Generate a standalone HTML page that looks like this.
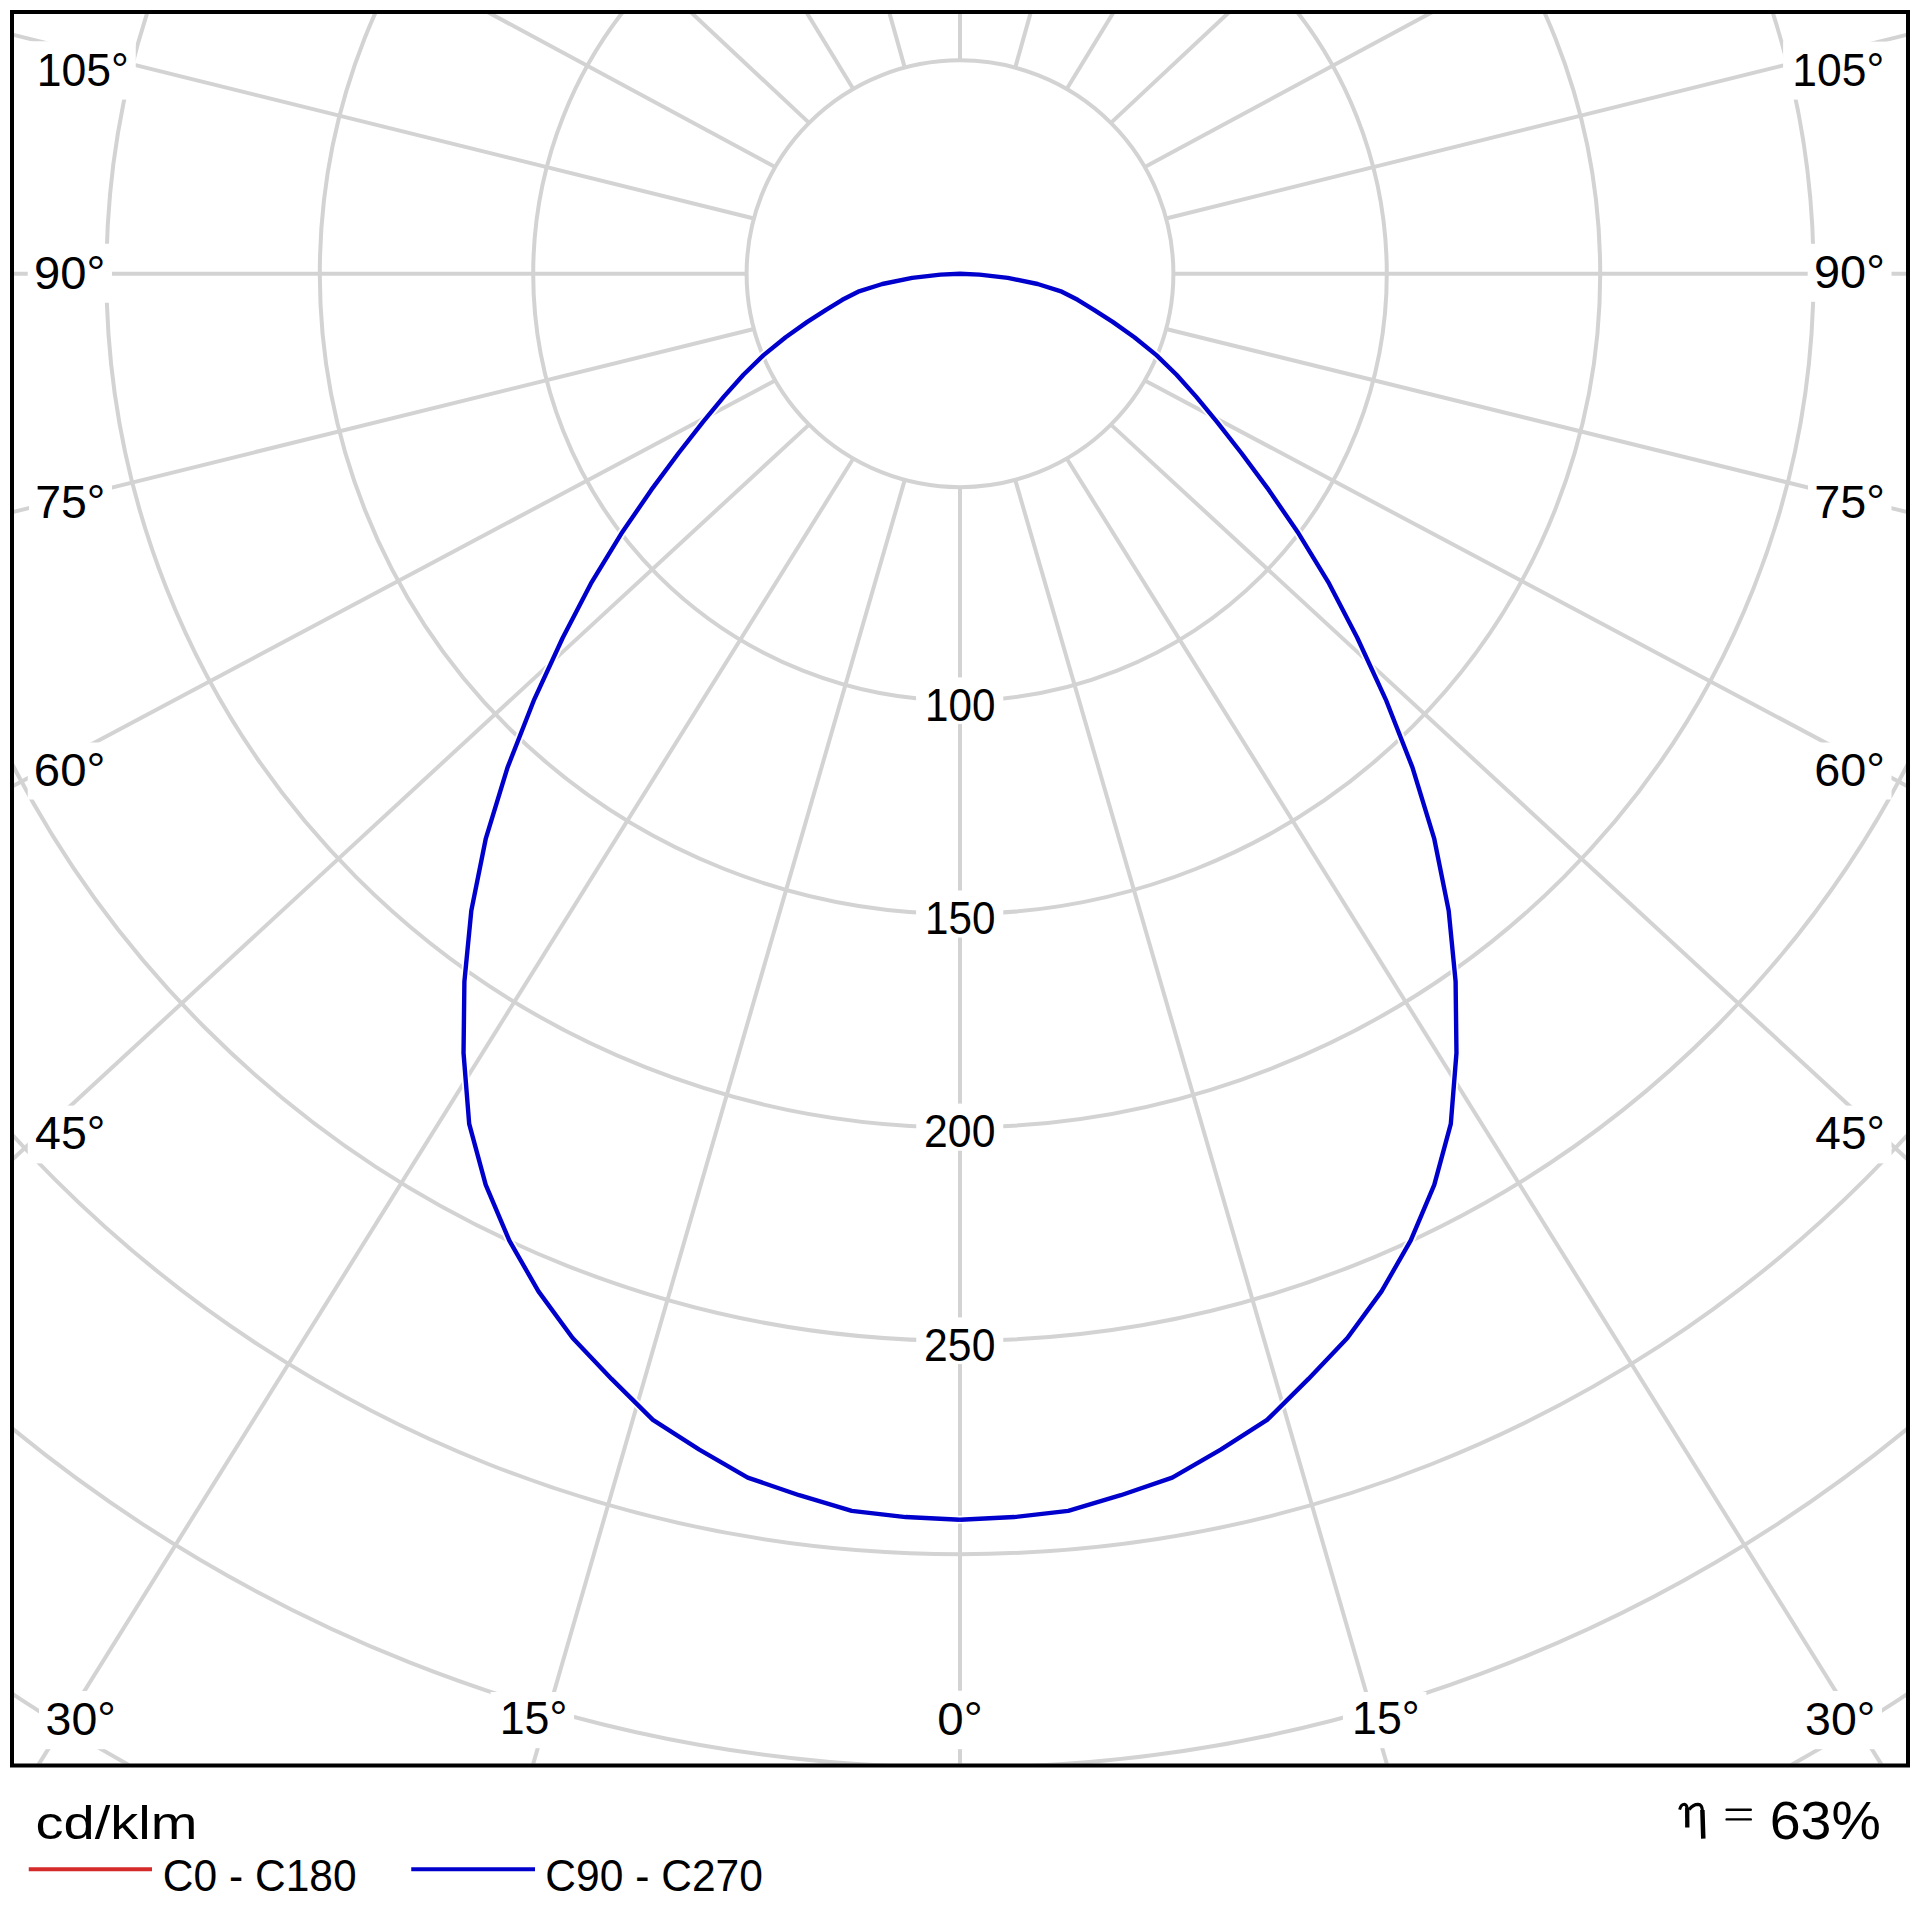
<!DOCTYPE html>
<html><head><meta charset="utf-8"><style>
html,body{margin:0;padding:0;background:#fff;width:1920px;height:1920px;overflow:hidden}
svg{display:block}
text{font-family:"Liberation Sans",sans-serif;fill:#000}
</style></head><body>
<svg width="1920" height="1920" viewBox="0 0 1920 1920">
<rect width="1920" height="1920" fill="#fff"/>
<defs><clipPath id="cp"><rect x="14.0" y="14.0" width="1892.0" height="1749.5"/></clipPath></defs>
<g clip-path="url(#cp)" fill="none" stroke="#d3d3d3" stroke-width="4.0">
<circle cx="960.0" cy="273.75" r="213.40"/>
<circle cx="960.0" cy="273.75" r="426.80"/>
<circle cx="960.0" cy="273.75" r="640.20"/>
<circle cx="960.0" cy="273.75" r="853.60"/>
<circle cx="960.0" cy="273.75" r="1067.00"/>
<circle cx="960.0" cy="273.75" r="1280.40"/>
<circle cx="960.0" cy="273.75" r="1493.80"/>
<circle cx="960.0" cy="273.75" r="1707.20"/>
<circle cx="960.0" cy="273.75" r="1920.60"/>
<line x1="904.77" y1="479.88" x2="514.73" y2="1827.68"/>
<line x1="1015.23" y1="479.88" x2="1405.27" y2="1827.68"/>
<line x1="853.30" y1="458.56" x2="-1.50" y2="1828.75"/>
<line x1="1066.70" y1="458.56" x2="1921.51" y2="1828.75"/>
<line x1="809.10" y1="424.65" x2="-25.76" y2="1194.67"/>
<line x1="1110.90" y1="424.65" x2="1945.76" y2="1194.67"/>
<line x1="775.19" y1="380.45" x2="-24.06" y2="805.75"/>
<line x1="1144.81" y1="380.45" x2="1944.06" y2="805.75"/>
<line x1="753.87" y1="328.98" x2="-22.99" y2="520.84"/>
<line x1="1166.13" y1="328.98" x2="1942.99" y2="520.84"/>
<line x1="753.87" y1="218.52" x2="-22.99" y2="25.82"/>
<line x1="1166.13" y1="218.52" x2="1942.99" y2="25.82"/>
<line x1="775.19" y1="167.05" x2="477.05" y2="6.35"/>
<line x1="1144.81" y1="167.05" x2="1442.95" y2="6.35"/>
<line x1="809.10" y1="122.85" x2="686.98" y2="8.56"/>
<line x1="1110.90" y1="122.85" x2="1233.02" y2="8.56"/>
<line x1="853.30" y1="88.94" x2="805.21" y2="10.25"/>
<line x1="1066.70" y1="88.94" x2="1114.79" y2="10.25"/>
<line x1="904.77" y1="67.62" x2="888.95" y2="11.32"/>
<line x1="1015.23" y1="67.62" x2="1031.05" y2="11.32"/>
<line x1="960.00" y1="487.15" x2="960.00" y2="1768.50"/>
<line x1="960.00" y1="60.35" x2="960.00" y2="9.00"/>
<line x1="746.60" y1="273.75" x2="9.00" y2="273.75"/>
<line x1="1173.40" y1="273.75" x2="1911.00" y2="273.75"/>
</g>
<path d="M960.00,1519.75 L905.72,1517.07 L851.76,1510.92 L799.19,1495.21 L747.73,1477.58 L699.30,1449.70 L652.89,1419.92 L611.54,1378.92 L572.63,1338.05 L538.47,1291.40 L509.24,1240.42 L485.74,1184.80 L469.20,1123.84 L463.53,1053.05 L464.40,981.54 L471.32,910.61 L485.71,838.98 L507.49,767.58 L534.19,699.56 L562.74,637.77 L590.96,583.41 L621.35,533.61 L651.27,489.92 L678.65,452.99 L702.84,422.22 L723.89,396.66 L743.45,374.73 L763.62,355.09 L785.65,337.21 L807.31,321.89 L826.44,309.54 L842.36,299.83 L858.18,291.70 L882.33,283.98 L912.18,277.93 L940.51,274.60 L960.00,273.75 L979.49,274.60 L1007.82,277.93 L1037.67,283.98 L1061.82,291.70 L1077.64,299.83 L1093.56,309.54 L1112.69,321.89 L1134.35,337.21 L1156.38,355.09 L1176.55,374.73 L1196.11,396.66 L1217.16,422.22 L1241.35,452.99 L1268.73,489.92 L1298.65,533.61 L1329.04,583.41 L1357.26,637.77 L1385.81,699.56 L1412.51,767.58 L1434.29,838.98 L1448.68,910.61 L1455.60,981.54 L1456.47,1053.05 L1450.80,1123.84 L1434.26,1184.80 L1410.76,1240.42 L1381.53,1291.40 L1347.37,1338.05 L1308.46,1378.92 L1267.11,1419.92 L1220.70,1449.70 L1172.27,1477.58 L1120.81,1495.21 L1068.24,1510.92 L1014.28,1517.07 L960.00,1519.75" fill="none" stroke="#fff" stroke-width="8" stroke-linejoin="round"/><path d="M960.00,1519.75 L905.72,1517.07 L851.76,1510.92 L799.19,1495.21 L747.73,1477.58 L699.30,1449.70 L652.89,1419.92 L611.54,1378.92 L572.63,1338.05 L538.47,1291.40 L509.24,1240.42 L485.74,1184.80 L469.20,1123.84 L463.53,1053.05 L464.40,981.54 L471.32,910.61 L485.71,838.98 L507.49,767.58 L534.19,699.56 L562.74,637.77 L590.96,583.41 L621.35,533.61 L651.27,489.92 L678.65,452.99 L702.84,422.22 L723.89,396.66 L743.45,374.73 L763.62,355.09 L785.65,337.21 L807.31,321.89 L826.44,309.54 L842.36,299.83 L858.18,291.70 L882.33,283.98 L912.18,277.93 L940.51,274.60 L960.00,273.75 L979.49,274.60 L1007.82,277.93 L1037.67,283.98 L1061.82,291.70 L1077.64,299.83 L1093.56,309.54 L1112.69,321.89 L1134.35,337.21 L1156.38,355.09 L1176.55,374.73 L1196.11,396.66 L1217.16,422.22 L1241.35,452.99 L1268.73,489.92 L1298.65,533.61 L1329.04,583.41 L1357.26,637.77 L1385.81,699.56 L1412.51,767.58 L1434.29,838.98 L1448.68,910.61 L1455.60,981.54 L1456.47,1053.05 L1450.80,1123.84 L1434.26,1184.80 L1410.76,1240.42 L1381.53,1291.40 L1347.37,1338.05 L1308.46,1378.92 L1267.11,1419.92 L1220.70,1449.70 L1172.27,1477.58 L1120.81,1495.21 L1068.24,1510.92 L1014.28,1517.07 L960.00,1519.75" fill="none" stroke="#0000cc" stroke-width="4.4" stroke-linejoin="round"/>
<rect x="27.5" y="41.25" width="108.25" height="58.349999999999994" fill="#fff"/>
<rect x="27.75" y="243.75" width="84.25" height="59.0" fill="#fff"/>
<rect x="29.0" y="475.0" width="83.0" height="57.299999999999955" fill="#fff"/>
<rect x="27.75" y="742.5" width="84.25" height="57.0" fill="#fff"/>
<rect x="27.75" y="1105.6" width="84.25" height="57.80000000000018" fill="#fff"/>
<rect x="1783.1" y="41.6" width="108.0" height="57.99999999999999" fill="#fff"/>
<rect x="1807.7" y="243.8" width="83.79999999999995" height="58.0" fill="#fff"/>
<rect x="1808.0" y="475.6" width="83.5" height="56.19999999999993" fill="#fff"/>
<rect x="1808.0" y="742.5" width="83.5" height="57.0" fill="#fff"/>
<rect x="1808.0" y="1105.6" width="83.5" height="57.80000000000018" fill="#fff"/>
<rect x="39.0" y="1691" width="83.5" height="58.200000000000045" fill="#fff"/>
<rect x="490.6" y="1692" width="83.5" height="56.200000000000045" fill="#fff"/>
<rect x="930.7" y="1690.7" width="58.59999999999991" height="58.5" fill="#fff"/>
<rect x="1342.9" y="1692" width="83.5" height="56.200000000000045" fill="#fff"/>
<rect x="1798.5" y="1691" width="83.5" height="58.200000000000045" fill="#fff"/>
<rect x="916.1" y="677.4" width="87.14999999999998" height="46.700000000000045" fill="#fff"/>
<rect x="916.1" y="890.5" width="87.14999999999998" height="47.10000000000002" fill="#fff"/>
<rect x="916.25" y="1103.6" width="87.0" height="47.100000000000136" fill="#fff"/>
<rect x="916.25" y="1317.4" width="87.0" height="46.69999999999982" fill="#fff"/>
<text x="36.66" y="85.6" text-anchor="start" font-size="45.5" textLength="92.19" lengthAdjust="spacingAndGlyphs">105°</text>
<text x="34.13" y="288.75" text-anchor="start" font-size="45.5" textLength="71.31" lengthAdjust="spacingAndGlyphs">90°</text>
<text x="35.18" y="518.3" text-anchor="start" font-size="45.5" textLength="70.21" lengthAdjust="spacingAndGlyphs">75°</text>
<text x="33.88" y="785.5" text-anchor="start" font-size="45.5" textLength="71.56" lengthAdjust="spacingAndGlyphs">60°</text>
<text x="35.09" y="1149.4" text-anchor="start" font-size="45.5" textLength="70.31" lengthAdjust="spacingAndGlyphs">45°</text>
<text x="1792.27" y="85.6" text-anchor="start" font-size="45.5" textLength="91.93" lengthAdjust="spacingAndGlyphs">105°</text>
<text x="1814.09" y="287.8" text-anchor="start" font-size="45.5" textLength="70.82" lengthAdjust="spacingAndGlyphs">90°</text>
<text x="1814.16" y="517.8" text-anchor="start" font-size="45.5" textLength="70.75" lengthAdjust="spacingAndGlyphs">75°</text>
<text x="1814.16" y="785.5" text-anchor="start" font-size="45.5" textLength="70.75" lengthAdjust="spacingAndGlyphs">60°</text>
<text x="1815.35" y="1149.4" text-anchor="start" font-size="45.5" textLength="69.51" lengthAdjust="spacingAndGlyphs">45°</text>
<text x="45.64" y="1735.2" text-anchor="start" font-size="45.5" textLength="70.25" lengthAdjust="spacingAndGlyphs">30°</text>
<text x="499.75" y="1734.2" text-anchor="start" font-size="45.5" textLength="67.64" lengthAdjust="spacingAndGlyphs">15°</text>
<text x="937.3" y="1735.2" text-anchor="start" font-size="45.5" textLength="45.4" lengthAdjust="spacingAndGlyphs">0°</text>
<text x="1352.05" y="1734.2" text-anchor="start" font-size="45.5" textLength="67.64" lengthAdjust="spacingAndGlyphs">15°</text>
<text x="1805.14" y="1735.2" text-anchor="start" font-size="45.5" textLength="70.25" lengthAdjust="spacingAndGlyphs">30°</text>
<text x="924.93" y="720.6" text-anchor="start" font-size="45.5" textLength="70.44" lengthAdjust="spacingAndGlyphs">100</text>
<text x="924.93" y="934.1" text-anchor="start" font-size="45.5" textLength="70.44" lengthAdjust="spacingAndGlyphs">150</text>
<text x="924.11" y="1147.2" text-anchor="start" font-size="45.5" textLength="71.28" lengthAdjust="spacingAndGlyphs">200</text>
<text x="924.11" y="1360.6" text-anchor="start" font-size="45.5" textLength="71.28" lengthAdjust="spacingAndGlyphs">250</text>
<rect x="12.0" y="12.0" width="1896.0" height="1753.5" fill="none" stroke="#000" stroke-width="4"/>
<line x1="28.75" y1="1869.25" x2="152" y2="1869.25" stroke="#d42a2a" stroke-width="4"/>
<line x1="411.25" y1="1869.25" x2="535" y2="1869.25" stroke="#0000cc" stroke-width="4"/>
<text x="35.48" y="1838.75" text-anchor="start" font-size="46.55" textLength="161.87" lengthAdjust="spacingAndGlyphs">cd/klm</text>
<text x="162.87" y="1891.25" text-anchor="start" font-size="44.64" textLength="193.73" lengthAdjust="spacingAndGlyphs">C0 - C180</text>
<text x="545.37" y="1891.25" text-anchor="start" font-size="44.64" textLength="217.53" lengthAdjust="spacingAndGlyphs">C90 - C270</text>
<text x="1769.73" y="1838.75" text-anchor="start" font-size="53.57" textLength="111.05" lengthAdjust="spacingAndGlyphs">63%</text>
<path d="M1679.6,1809.6 Q1681.2,1804.3 1684.3,1804.3 Q1686.6,1804.6 1687.1,1808" fill="none" stroke="#000" stroke-width="3.0" stroke-linecap="butt"/>
<path d="M1687.2,1807.5 L1687.3,1827.6" fill="none" stroke="#000" stroke-width="4.3" stroke-linecap="butt"/>
<path d="M1689.2,1809.6 Q1693,1804.3 1698,1804.3 Q1702.2,1804.5 1702.5,1811" fill="none" stroke="#000" stroke-width="3.2" stroke-linecap="butt"/>
<path d="M1702.4,1810 L1703.3,1838.6" fill="none" stroke="#000" stroke-width="4.5" stroke-linecap="butt"/>
<path d="M1726.6,1809.8 L1750.8,1809.8 M1726.6,1819.4 L1750.8,1819.4" fill="none" stroke="#000" stroke-width="2.4" stroke-linecap="round"/>
</svg>
</body></html>
